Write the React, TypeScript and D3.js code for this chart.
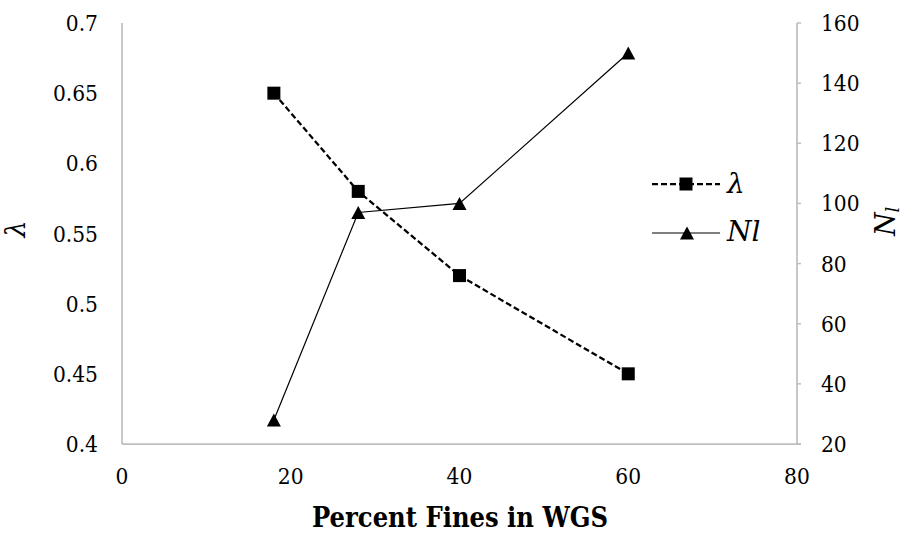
import React from "react";
import * as d3 from "d3";

const fines = [18, 28, 40, 60];
const lambdaValues = [0.65, 0.58, 0.52, 0.45];
const nlValues = [28, 97, 100, 150];
const xTicks = [0, 20, 40, 60, 80];
const leftTicks = [0.4, 0.45, 0.5, 0.55, 0.6, 0.65, 0.7];
const rightTicks = [20, 40, 60, 80, 100, 120, 140, 160];

const W = 909;
const H = 535;
const M = { left: 122, right: 797, top: 23, bottom: 444 };
const FONT = "DejaVu Serif";
const AXIS = "#bfbfbf";
const SX = 0.88; // horizontal squeeze so the serif face runs narrow like Times

type LabelProps = {
  x: number;
  y: number;
  anchor?: "start" | "middle" | "end";
  size: number;
  children: React.ReactNode;
};

function Label({ x, y, anchor = "start", size, children }: LabelProps) {
  return (
    <g transform={`translate(${x},${y}) scale(${SX},1)`}>
      <text textAnchor={anchor} fontSize={size} fontFamily={FONT} fill="#000">
        {children}
      </text>
    </g>
  );
}

export default function App() {
  const x = d3.scaleLinear().domain([0, 80]).range([M.left, M.right]);
  const yL = d3.scaleLinear().domain([0.4, 0.7]).range([M.bottom, M.top]);
  const yR = d3.scaleLinear().domain([20, 160]).range([M.bottom, M.top]);

  const lambdaPts: [number, number][] = fines.map((f, i) => [x(f), yL(lambdaValues[i])]);
  const nlPts: [number, number][] = fines.map((f, i) => [x(f), yR(nlValues[i])]);
  const line = d3.line();

  // triangle marker centred on its bounding box
  const tw = 14;
  const th = 13;
  const tri = `M0,${-th / 2}L${tw / 2},${th / 2}L${-tw / 2},${th / 2}Z`;
  const sq = 13;

  return (
    <svg width={W} height={H} style={{ position: "absolute", left: 0, top: 0 }} fontFamily={FONT}>
      <rect width={W} height={H} fill="#fff" />
      {/* axis frame */}
      <line x1={M.left} x2={M.left} y1={M.top} y2={M.bottom} stroke={AXIS} strokeWidth={1.75} />
      <line x1={M.right} x2={M.right} y1={M.top} y2={M.bottom} stroke={AXIS} strokeWidth={1.75} />
      <line x1={M.left} x2={M.right + 4} y1={M.bottom} y2={M.bottom} stroke={AXIS} strokeWidth={1.75} />
      {rightTicks.map((t) => (
        <line key={t} x1={M.right} x2={M.right + 4} y1={yR(t)} y2={yR(t)} stroke={AXIS} strokeWidth={1.5} />
      ))}
      {leftTicks.map((t) => (
        <Label key={t} x={98} y={yL(t) + 8} anchor="end" size={23}>
          {String(t)}
        </Label>
      ))}
      {rightTicks.map((t) => (
        <Label key={t} x={821} y={yR(t) + 8} size={23}>
          {t}
        </Label>
      ))}
      {xTicks.map((t) => (
        <Label key={t} x={x(t)} y={484} anchor="middle" size={23}>
          {t}
        </Label>
      ))}
      <text
        x={460}
        y={527}
        textAnchor="middle"
        fontSize={27}
        fontWeight="bold"
        fontFamily={FONT}
        textLength={296}
        lengthAdjust="spacingAndGlyphs"
      >
        Percent Fines in WGS
      </text>
      <text
        transform={`translate(25,229) rotate(-90)`}
        textAnchor="middle"
        fontSize={27}
        fontStyle="italic"
        fontFamily={FONT}
      >
        λ
      </text>
      <text transform={`translate(895,236) rotate(-90)`} fontSize={27} fontStyle="italic" fontFamily={FONT}>
        N
        <tspan fontSize={18} dy={4}>
          l
        </tspan>
      </text>

      {/* series */}
      <path d={line(nlPts) || ""} fill="none" stroke="#000" strokeWidth={1.2} />
      <path d={line(lambdaPts) || ""} fill="none" stroke="#000" strokeWidth={2.25} strokeDasharray="6,3" />
      {lambdaPts.map(([px, py], i) => (
        <rect key={i} x={px - sq / 2} y={py - sq / 2} width={sq} height={sq} fill="#000" />
      ))}
      {nlPts.map(([px, py], i) => (
        <path key={i} d={tri} transform={`translate(${px},${py})`} fill="#000" />
      ))}

      {/* legend */}
      <line x1={652} x2={720} y1={184} y2={184} stroke="#000" strokeWidth={2.25} strokeDasharray="6,3" />
      <rect x={686 - sq / 2} y={184 - sq / 2} width={sq} height={sq} fill="#000" />
      <text x={727} y={193} fontSize={28} fontStyle="italic" fontFamily={FONT}>
        λ
      </text>
      <line x1={652} x2={720} y1={233} y2={233} stroke="#000" strokeWidth={1.2} />
      <path d={tri} transform={`translate(687,233)`} fill="#000" />
      <text x={727} y={241} fontSize={28} fontStyle="italic" fontFamily={FONT}>
        Nl
      </text>
    </svg>
  );
}
